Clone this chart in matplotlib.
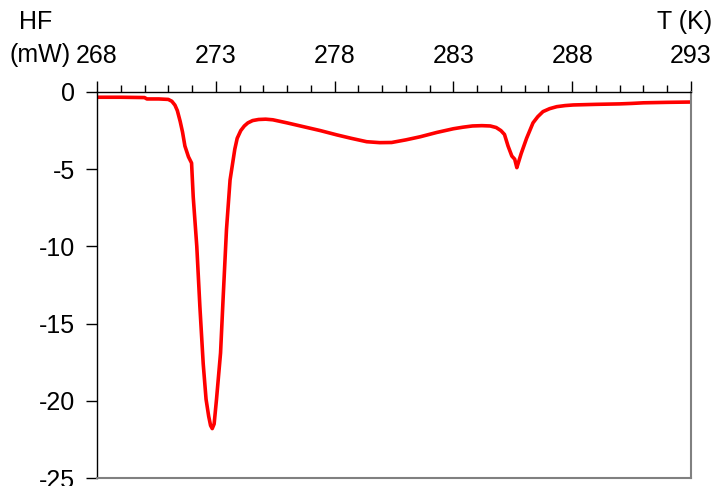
import matplotlib
matplotlib.use("Agg")
import matplotlib.pyplot as plt
from matplotlib.ticker import FixedLocator, MultipleLocator

plt.rcParams['font.family'] = ['Liberation Sans', 'DejaVu Sans']
plt.rcParams['axes.unicode_minus'] = False

temp_K = [268.1, 269.0, 270.0, 270.1, 270.6, 271.0, 271.15, 271.28, 271.38, 271.5,
          271.6, 271.7, 271.85, 271.98, 272.05, 272.2, 272.33, 272.47, 272.59,
          272.7, 272.78, 272.85, 272.93, 273.03, 273.2, 273.31, 273.45, 273.6,
          273.72, 273.8, 273.9, 274.05, 274.2, 274.35, 274.55, 274.8, 275.1,
          275.4, 276.0, 276.7, 277.4, 278.1, 278.7, 279.35, 279.9, 280.4,
          281.0, 281.6, 282.3, 283.0, 283.4, 283.8, 284.2, 284.55, 284.8,
          285.0, 285.15, 285.3, 285.46, 285.58, 285.67, 285.75, 285.85, 286.08,
          286.35, 286.55, 286.77, 287.05, 287.35, 287.7, 288.04, 289.0, 290.0,
          290.5, 291.0, 292.0, 293.0]
hf_mW = [-0.34, -0.34, -0.36, -0.45, -0.45, -0.48, -0.6, -0.85, -1.2, -1.9,
         -2.6, -3.5, -4.2, -4.6, -6.8, -10.0, -13.9, -17.6, -19.9,
         -21.0, -21.6, -21.8, -21.5, -19.9, -16.9, -13.3, -8.9, -5.7,
         -4.5, -3.7, -3.0, -2.5, -2.2, -2.0, -1.85, -1.78, -1.76,
         -1.8, -2.0, -2.25, -2.5, -2.78, -3.0, -3.22, -3.28, -3.27,
         -3.1, -2.9, -2.62, -2.38, -2.28, -2.2, -2.18, -2.2, -2.3,
         -2.5, -2.75, -3.5, -4.15, -4.35, -4.9, -4.5, -4.0, -3.0,
         -2.0, -1.6, -1.27, -1.08, -0.95, -0.88, -0.84, -0.8, -0.77,
         -0.74, -0.7, -0.67, -0.65]

x_major = [268, 273, 278, 283, 288, 293]

fig = plt.figure(figsize=(7.16, 4.86), dpi=100)
ax = fig.add_axes([97/716, 1 - 478/486, (691 - 97)/716, (478 - 92)/486])

ax.plot(temp_K, hf_mW, color='#ff0000', lw=2.6, solid_joinstyle='round')

ax.set_xlim(268, 293)
ax.set_ylim(-25, 0)
ax.xaxis.tick_top()
ax.xaxis.set_major_locator(FixedLocator(x_major))
ax.xaxis.set_minor_locator(MultipleLocator(1))
ax.yaxis.set_major_locator(MultipleLocator(5))
ax.tick_params(axis='x', which='major', direction='out', length=8, width=1, pad=9, labelsize=18)
ax.tick_params(axis='x', which='minor', direction='out', length=5, width=1)
ax.tick_params(axis='y', which='major', direction='out', length=8, width=1, pad=8, labelsize=18)

for s in ['left', 'top']:
    ax.spines[s].set_color('black')
    ax.spines[s].set_linewidth(1)
for s in ['right', 'bottom']:
    ax.spines[s].set_color('#808080')
    ax.spines[s].set_linewidth(1.5)

fig.text(36/716, 1 - 22/486, 'HF', ha='center', va='center', fontsize=18)
fig.text(40/716, 1 - 55/486, '(mW)', ha='center', va='center', fontsize=18)
fig.text(712/716, 1 - 22/486, 'T (K)', ha='right', va='center', fontsize=18)

fig.savefig('out.png', dpi=100)
